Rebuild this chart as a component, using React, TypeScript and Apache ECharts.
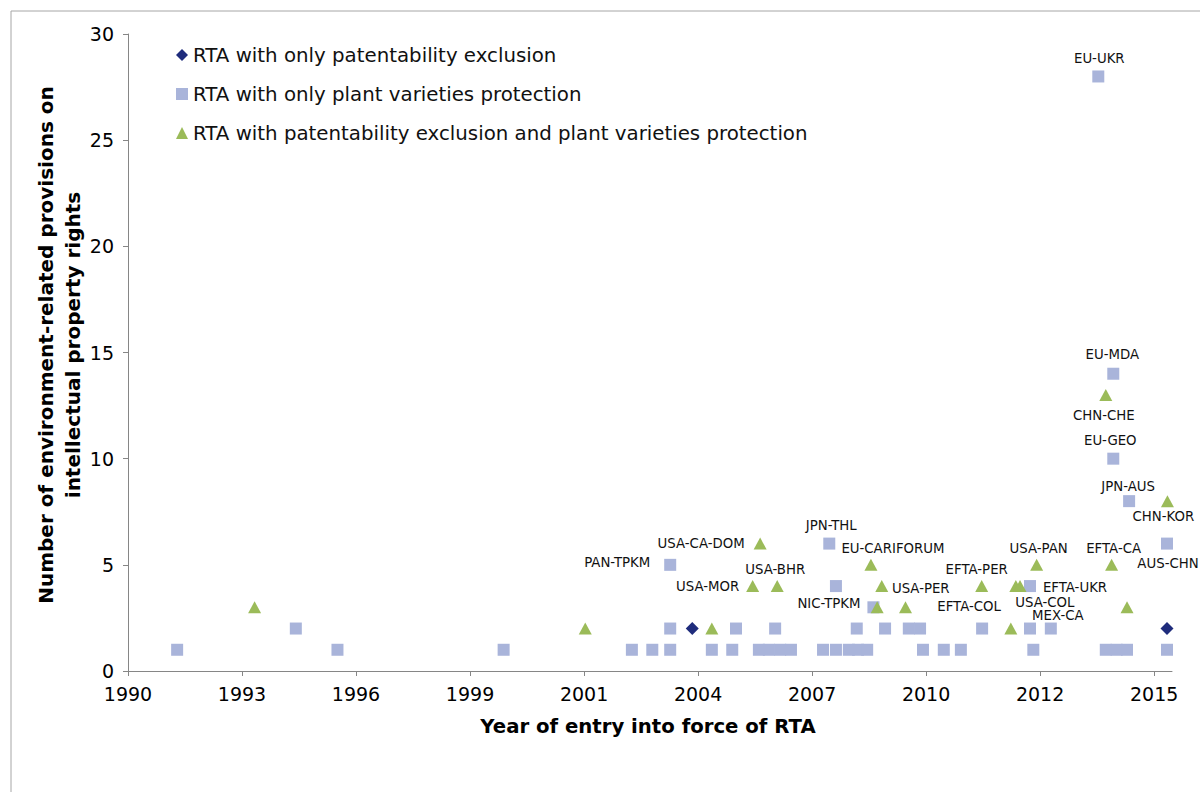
import React, { useEffect, useRef } from 'react';
import * as echarts from 'echarts';

// ---- Data ----
const seriesNames = [
  'RTA with only patentability exclusion',
  'RTA with only plant varieties protection',
  'RTA with patentability exclusion and plant varieties protection',
];

// x tick labels of the date axis (ticks every 1000 days)
const xTickLabels = ['1990', '1993', '1996', '1999', '2001', '2004', '2007', '2010', '2012', '2015'];
const X_AXIS_MIN = 1990.99;
const X_AXIS_MAX = 2016.06;
const X_TICK_STEP = 1000 / 365.25;

// [year of entry into force, number of provisions, RTA label]
const exclusionOnly: [number, number, string][] = [
  [2004.54, 2, ''],
  [2015.94, 2, ''],
];

const plantOnly: [number, number, string][] = [
  [1992.17, 1, ''], [1995.02, 2, ''], [1996.02, 1, ''], [2000.01, 1, ''],
  [2003.09, 1, ''], [2003.58, 1, ''], [2004.01, 1, ''], [2004.01, 2, ''],
  [2004.01, 5, 'PAN-TPKM'], [2005.01, 1, ''], [2005.5, 1, ''], [2005.59, 2, ''],
  [2006.14, 1, ''], [2006.38, 1, ''], [2006.53, 2, ''], [2006.65, 1, ''],
  [2006.91, 1, ''], [2007.68, 1, ''], [2007.83, 6, 'JPN-THL'], [2007.99, 1, ''],
  [2007.99, 4, 'NIC-TPKM'], [2008.3, 1, ''], [2008.49, 2, ''], [2008.52, 1, ''],
  [2008.74, 1, ''], [2008.89, 3, ''], [2009.17, 2, ''], [2009.74, 2, ''],
  [2010.01, 2, ''], [2010.08, 1, ''], [2010.58, 1, ''], [2010.99, 1, ''],
  [2011.5, 2, 'EFTA-COL'], [2012.65, 2, ''], [2012.65, 4, ''], [2012.73, 1, ''],
  [2013.15, 2, 'MEX-CA'], [2014.29, 28, 'EU-UKR'], [2014.47, 1, ''], [2014.65, 14, 'EU-MDA'],
  [2014.65, 10, 'EU-GEO'], [2014.73, 1, ''], [2014.98, 1, ''], [2015.03, 8, 'JPN-AUS'],
  [2015.94, 6, 'AUS-CHN'], [2015.94, 1, ''],
];

const exclusionAndPlant: [number, number, string][] = [
  [1994.03, 3, ''], [2001.97, 2, ''], [2005.01, 2, ''], [2005.99, 4, 'USA-MOR'],
  [2006.17, 6, 'USA-CA-DOM'], [2006.58, 4, 'USA-BHR'], [2008.83, 5, 'EU-CARIFORUM'],
  [2008.98, 3, ''], [2009.09, 4, 'USA-PER'], [2009.66, 3, ''], [2011.49, 4, 'EFTA-PER'],
  [2012.19, 2, ''], [2012.31, 4, 'USA-COL'], [2012.41, 4, 'EFTA-UKR'], [2012.81, 5, 'USA-PAN'],
  [2014.47, 13, 'CHN-CHE'], [2014.61, 5, 'EFTA-CA'], [2014.98, 3, ''], [2015.95, 8, 'CHN-KOR'],
];

// ---- Label placement (pixel offsets from the marker centre) ----
const labelOffsets: Record<string, [number, number]> = {
  'PAN-TPKM': [-53, -2],
  'USA-CA-DOM': [-59, 0],
  'USA-MOR': [-45, 0],
  'USA-BHR': [-2, -17],
  'JPN-THL': [2, -18],
  'NIC-TPKM': [-7, 17],
  'EU-CARIFORUM': [22, -16],
  'USA-PER': [39, 2],
  'EFTA-COL': [-13, -22],
  'EFTA-PER': [-5, -17],
  'USA-PAN': [2, -16],
  'EFTA-UKR': [55, 1],
  'USA-COL': [29, 16],
  'MEX-CA': [7, -13],
  'EFTA-CA': [2, -16],
  'AUS-CHN': [1, 20],
  'CHN-KOR': [-4, 15],
  'JPN-AUS': [-1, -15],
  'EU-GEO': [-3, -18],
  'CHN-CHE': [-2, 21],
  'EU-MDA': [-1, -19],
  'EU-UKR': [1, -18],
};

const FONT = '"DejaVu Sans", Verdana, sans-serif';

function toData(points: [number, number, string][]) {
  return points.map(([x, y, name]) => ({
    value: [x, y],
    name,
    label: name
      ? { show: true, formatter: name, offset: labelOffsets[name] || [0, 0] }
      : { show: false },
  }));
}

const labelStyle = {
  position: 'inside' as const,
  color: '#111111',
  fontSize: 13.3,
  fontFamily: FONT,
};

export default function App() {
  const ref = useRef<HTMLDivElement>(null);

  useEffect(() => {
    if (!ref.current) return;
    const chart = echarts.init(ref.current, undefined, { renderer: 'svg' });
    const tickValues = xTickLabels.map((_, i) => X_AXIS_MIN + i * X_TICK_STEP);

    chart.setOption({
      animation: false,
      backgroundColor: '#ffffff',
      textStyle: { fontFamily: FONT },
      grid: { left: 128, right: 28, top: 34, bottom: 121, containLabel: false },
      legend: {
        orient: 'vertical',
        left: 171,
        top: 40,
        itemWidth: 12,
        itemHeight: 12,
        itemGap: 19,
        textStyle: { fontSize: 19.8, color: '#111111', fontFamily: FONT, lineHeight: 20 },
        data: [
          { name: seriesNames[0], icon: 'diamond' },
          { name: seriesNames[1], icon: 'rect' },
          { name: seriesNames[2], icon: 'triangle' },
        ],
        selectedMode: false,
      },
      xAxis: {
        type: 'value',
        min: X_AXIS_MIN,
        max: X_AXIS_MAX,
        splitLine: { show: false },
        axisLine: { show: true, lineStyle: { color: '#868686', width: 1 } },
        axisTick: { show: true, length: 5, customValues: tickValues, lineStyle: { color: '#868686' } },
        axisLabel: {
          customValues: tickValues,
          fontSize: 19,
          color: '#000',
          fontFamily: FONT,
          margin: 13,
          formatter: (v: number) => {
            const idx = Math.round((v - X_AXIS_MIN) / X_TICK_STEP);
            return xTickLabels[idx] ?? '';
          },
        },
      },
      yAxis: {
        type: 'value',
        min: 0,
        max: 30,
        interval: 5,
        splitLine: { show: false },
        axisLine: { show: true, lineStyle: { color: '#868686', width: 1 } },
        axisTick: { show: true, length: 5, lineStyle: { color: '#868686' } },
        axisLabel: { fontSize: 19, color: '#000', fontFamily: FONT, margin: 14 },
      },
      graphic: [
        {
          type: 'rect',
          shape: { x: 11, y: 11, width: 1250, height: 850 },
          style: { fill: 'none', stroke: '#a6a6a6', lineWidth: 1 },
          silent: true,
          z: -10,
        },
        {
          type: 'text',
          x: 59,
          y: 345,
          rotation: Math.PI / 2,
          style: {
            text: 'Number of environment-related provisions on\nintellectual property rights',
            align: 'center',
            verticalAlign: 'middle',
            fontSize: 20,
            fontWeight: 'bold',
            fontFamily: FONT,
            lineHeight: 27,
            fill: '#000',
          },
        },
        {
          type: 'text',
          x: 648,
          y: 726,
          style: {
            text: 'Year of entry into force of RTA',
            align: 'center',
            verticalAlign: 'middle',
            fontSize: 19.7,
            fontWeight: 'bold',
            fontFamily: FONT,
            fill: '#000',
          },
        },
      ],
      series: [
        {
          name: seriesNames[0],
          type: 'scatter',
          symbol: 'diamond',
          symbolSize: 13,
          itemStyle: { color: '#1F2C7C', opacity: 1 },
          label: labelStyle,
          emphasis: { disabled: true },
          z: 2,
          data: toData(exclusionOnly),
        },
        {
          name: seriesNames[1],
          type: 'scatter',
          symbol: 'rect',
          symbolSize: 12,
          itemStyle: { color: '#A9B4DA', opacity: 1 },
          label: labelStyle,
          emphasis: { disabled: true },
          z: 3,
          data: toData(plantOnly),
        },
        {
          name: seriesNames[2],
          type: 'scatter',
          symbol: 'triangle',
          symbolSize: [13, 12],
          itemStyle: { color: '#9BBB59', opacity: 1 },
          label: labelStyle,
          emphasis: { disabled: true },
          z: 4,
          data: toData(exclusionAndPlant),
        },
      ],
    });

    return () => chart.dispose();
  }, []);

  return (
    <div
      ref={ref}
      style={{ position: 'fixed', left: 0, top: 0, width: 1200, height: 792, background: '#fff' }}
    />
  );
}
